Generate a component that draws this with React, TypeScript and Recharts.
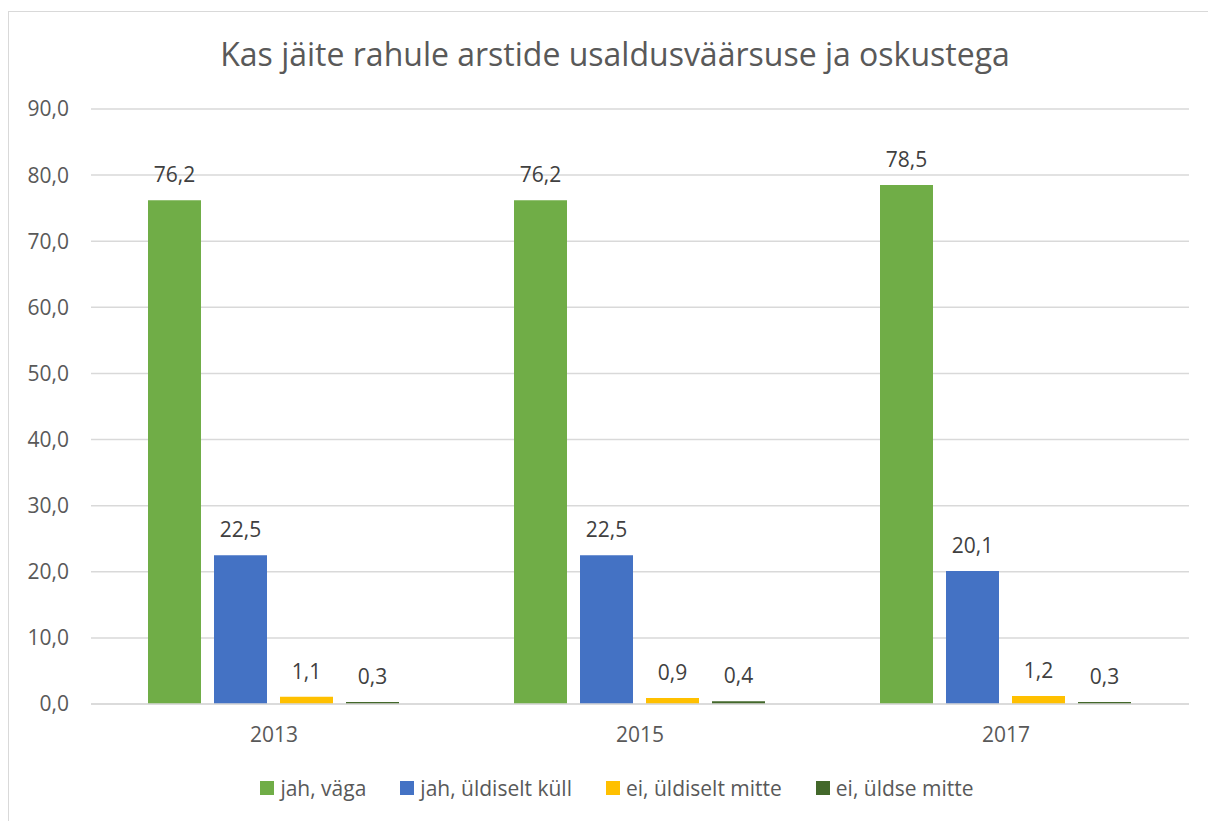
import { Bar, BarChart, CartesianGrid, LabelList, Legend, XAxis, YAxis } from "recharts";

const years = ["2013", "2015", "2017"];
const jahVaga = [76.2, 76.2, 78.5];
const jahUldiseltKull = [22.5, 22.5, 20.1];
const eiUldiseltMitte = [1.1, 0.9, 1.2];
const eiUldseMitte = [0.3, 0.4, 0.3];
const yTicks = [0, 10, 20, 30, 40, 50, 60, 70, 80, 90];

const series = [
  { key: "jahVaga", name: "jah, väga", color: "#70ad47" },
  { key: "jahUldiseltKull", name: "jah, üldiselt küll", color: "#4472c4" },
  { key: "eiUldiseltMitte", name: "ei, üldiselt mitte", color: "#ffc000" },
  { key: "eiUldseMitte", name: "ei, üldse mitte", color: "#43682b" },
];

const rows = years.map((year, i) => ({
  year,
  jahVaga: jahVaga[i],
  jahUldiseltKull: jahUldiseltKull[i],
  eiUldiseltMitte: eiUldiseltMitte[i],
  eiUldseMitte: eiUldseMitte[i],
}));

const fmt = (v: number) => v.toFixed(1).replace(".", ",");
const font = "'Open Sans', Lato, sans-serif";

// legend in series order (recharts 3 would sort it by name otherwise)
function LegendBox() {
  return (
    <div
      style={{
        display: "flex",
        justifyContent: "center",
        gap: 34,
        paddingLeft: 24,
        fontSize: 21,
        color: "#595959",
      }}
    >
      {series.map((s) => (
        <div key={s.key} style={{ display: "flex", alignItems: "center", gap: 6 }}>
          <span style={{ width: 14, height: 14, background: s.color, display: "inline-block" }} />
          <span>{s.name}</span>
        </div>
      ))}
    </div>
  );
}

export default function App() {
  return (
    <div style={{ position: "fixed", top: 0, left: 0, width: 1208, height: 821, overflow: "hidden", background: "#fff" }}>
      <style>{"html,body{overflow:hidden}"}</style>
      <div
        style={{
          position: "absolute",
          top: 11,
          left: 8,
          width: 1199,
          height: 810,
          overflow: "hidden",
          borderTop: "1px solid #d9d9d9",
          borderLeft: "1px solid #d9d9d9",
          fontFamily: font,
        }}
      >
        <div
          style={{
            position: "absolute",
            top: 20,
            left: 0,
            width: 1212,
            textAlign: "center",
            fontSize: 32,
            color: "#595959",
          }}
        >
          Kas jäite rahule arstide usaldusväärsuse ja oskustega
        </div>
        <BarChart
          width={1199}
          height={809}
          data={rows}
          margin={{ top: 97, right: 19, left: 12, bottom: 49 }}
          barCategoryGap={57}
          barGap={13}
        >
          <CartesianGrid vertical={false} stroke="#d9d9d9" strokeWidth={1.5} />
          <XAxis
            dataKey="year"
            axisLine={{ stroke: "#d9d9d9", strokeWidth: 1.5 }}
            tickLine={false}
            tickSize={0}
            tickMargin={23}
            height={40}
            tick={{ fill: "#595959", fontSize: 21, fontFamily: font }}
          />
          <YAxis
            domain={[0, 90]}
            ticks={yTicks}
            tickFormatter={fmt}
            axisLine={false}
            tickLine={false}
            tickSize={0}
            tickMargin={22}
            width={70}
            tick={{ fill: "#595959", fontSize: 21, fontFamily: font }}
          />
          <Legend verticalAlign="bottom" content={() => <LegendBox />} wrapperStyle={{ bottom: 19 }} />
          {series.map((s) => (
            <Bar key={s.key} dataKey={s.key} name={s.name} fill={s.color} isAnimationActive={false}>
              <LabelList
                dataKey={s.key}
                position="top"
                offset={18}
                formatter={(v: number) => fmt(v)}
                style={{ fill: "#404040", fontSize: 21, fontFamily: font }}
              />
            </Bar>
          ))}
        </BarChart>
      </div>
    </div>
  );
}
